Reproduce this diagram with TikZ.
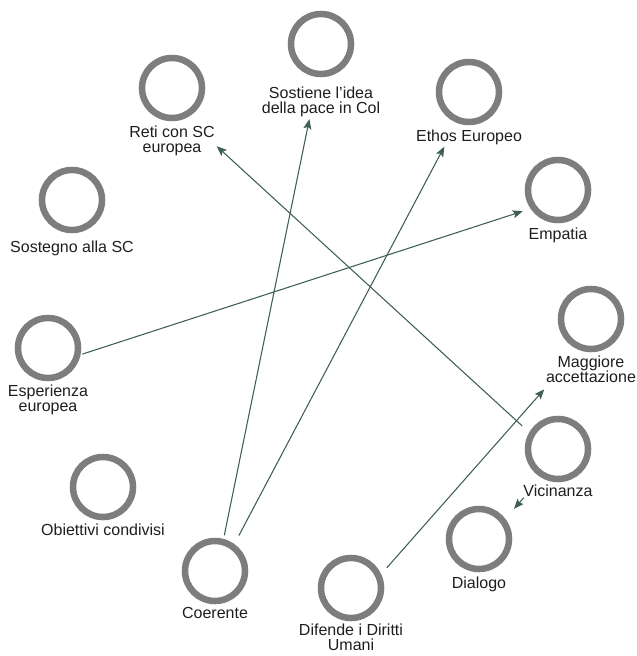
\documentclass[tikz,border=0pt]{standalone}
\usepackage{fontspec}
\setmainfont{Liberation Sans}
\usetikzlibrary{arrows.meta}
\definecolor{ringgray}{HTML}{7D7D7D}
\definecolor{linkgreen}{HTML}{3E5E56}
\definecolor{labelink}{HTML}{1E1E1E}
\tikzset{
  ring/.style={circle, draw=ringgray, line width=4.9pt, minimum size=45pt, inner sep=0pt},
  caption/.style={anchor=north, align=center, inner sep=0pt, text=labelink,
    font=\fontsize{12pt}{11.25pt}\selectfont},
  link/.style={draw=linkgreen, line width=0.8pt,
    -{Stealth[length=7.5pt,width=6pt,inset=1.5pt]}}
}
\begin{document}
\begin{tikzpicture}[x=0.75pt, y=-0.75pt]
\useasboundingbox (0,0) rectangle (636,656);

% concepts: ring, caption, and a hub point that the links aim at
\node[ring] (sostiene-ring) at (321,44) {};
\node[caption] (sostiene-text) at (321,87) {Sostiene l'idea\\della pace in Col};
\coordinate (sostiene) at (321,62.25);

\node[ring] (reti-ring) at (172,88) {};
\node[caption] (reti-text) at (172,126) {Reti con SC\\europea};
\coordinate (reti) at (172,105.25);

\node[ring] (ethos-ring) at (469,92) {};
\node[caption] (ethos-text) at (469,130) {Ethos Europeo};
\coordinate (ethos) at (468,101.75);

\node[ring] (empatia-ring) at (558,190) {};
\node[caption] (empatia-text) at (558,228) {Empatia};
\coordinate (empatia) at (558,199.75);

\node[ring] (sostegno-ring) at (72,200) {};
\node[caption] (sostegno-text) at (72,240.5) {Sostegno alla SC};

\node[ring] (esperienza-ring) at (48,348) {};
\node[caption] (esperienza-text) at (48,385) {Esperienza\\europea};
\coordinate (esperienza) at (48,365.25);

\node[ring] (maggiore-ring) at (591,319) {};
\node[caption] (maggiore-text) at (591,356) {Maggiore\\accettazione};
\coordinate (maggiore) at (591,336.25);

\node[ring] (vicinanza-ring) at (558,449) {};
\node[caption] (vicinanza-text) at (558,485) {Vicinanza};
\coordinate (vicinanza) at (558,458.75);

\node[ring] (dialogo-ring) at (479,539) {};
\node[caption] (dialogo-text) at (479,576.5) {Dialogo};
\coordinate (dialogo) at (479,548.75);

\node[ring] (obiettivi-ring) at (103,487) {};
\node[caption] (obiettivi-text) at (103,524) {Obiettivi condivisi};

\node[ring] (coerente-ring) at (215,571) {};
\node[caption] (coerente-text) at (215,607) {Coerente};
\coordinate (coerente) at (215,580.75);

\node[ring] (difende-ring) at (351,588) {};
\node[caption] (difende-text) at (351,624) {Difende i Diritti\\Umani};
\coordinate (difende) at (352,607.25);

% links
\draw[link, shorten <=27.1pt, shorten >=27.8pt] (esperienza) -- (empatia);
\draw[link, shorten <=34.8pt, shorten >=43.5pt] (coerente) -- (sostiene);
\draw[link, shorten <=38.4pt, shorten >=38.1pt] (coerente) -- (ethos);
\draw[link, shorten <=36.5pt, shorten >=45.5pt] (vicinanza) -- (reti);
\draw[link, shorten <=39.5pt, shorten >=53pt] (difende) -- (maggiore);
\draw[link, shorten <=38.9pt, shorten >=39.8pt] (vicinanza) -- (dialogo);
\end{tikzpicture}
\end{document}
